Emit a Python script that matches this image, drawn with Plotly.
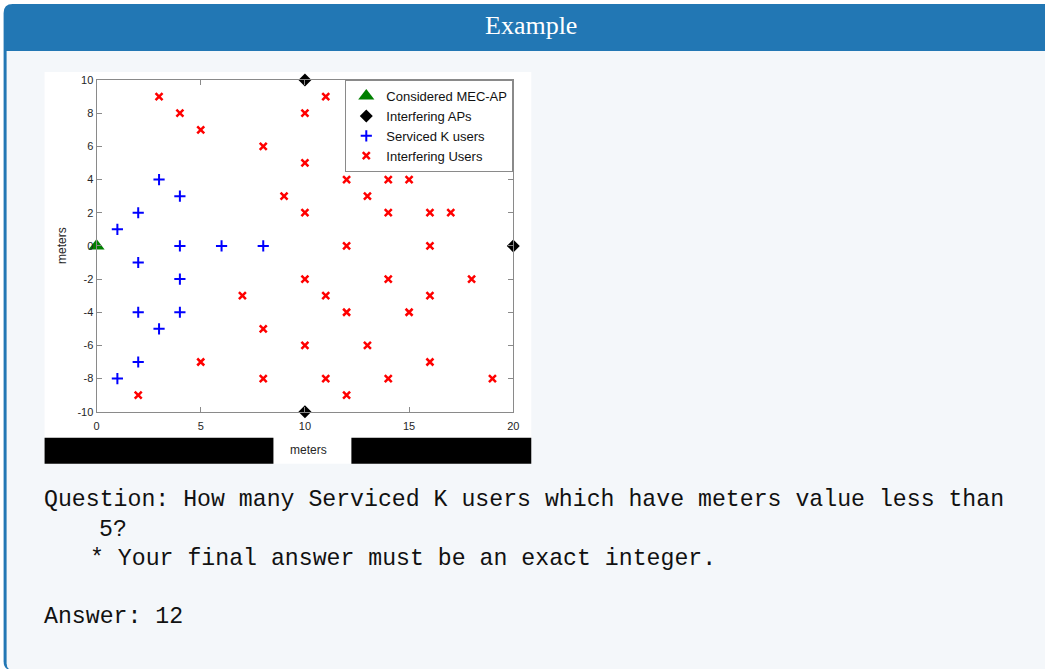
import plotly.graph_objects as go

W, H = 1045, 669

# --- data -----------------------------------------------------------------
mec_x = [0]
mec_y = [0]

ap_x = [10, 20, 10]
ap_y = [10, 0, -10]

serviced_x = [3, 4, 2, 1, 4, 6, 8, 2, 4, 2, 4, 3, 2, 1]
serviced_y = [4, 3, 2, 1, 0, 0, 0, -1, -2, -4, -4, -5, -7, -8]

interf_x = [3, 4, 5, 8, 11, 10, 10, 9, 10, 12, 13, 14, 15, 14, 16, 17,
            12, 16, 10, 14, 18, 11, 16, 7, 12, 15, 8, 10, 13, 5, 16,
            8, 11, 14, 19, 12, 2]
interf_y = [9, 8, 7, 6, 9, 8, 5, 3, 2, 4, 3, 4, 4, 2, 2, 2,
            0, 0, -2, -2, -2, -3, -3, -3, -4, -4, -5, -6, -6, -7, -7,
            -8, -8, -8, -8, -9, -9]

x_ticks = [0, 5, 10, 15, 20]
x_tick_labels = ["0", "5", "10", "15", "20"]
y_ticks = [-10, -8, -6, -4, -2, 0, 2, 4, 6, 8, 10]
y_tick_labels = ["-10", "-8", "-6", "-4", "-2", "0", "2", "4", "6", "8", "10"]

question_lines = [
    "Question: How many Serviced K users which have meters value less than",
    "5?",
    "* Your final answer must be an exact integer.",
    "Answer: 12",
]


# page pixel -> paper fraction (small calibration for the rendered canvas)
def fx(px):
    return ((px - 2.4) / 0.992) / W


def fy(py):
    return 1 - ((py - 6.1) / 0.980) / H


fig = go.Figure()

fig.add_trace(go.Scatter(
    x=mec_x, y=mec_y, mode="markers", name="Considered MEC-AP",
    marker=dict(symbol="triangle-up", size=14, color="#008000"),
    cliponaxis=False))
fig.add_trace(go.Scatter(
    x=ap_x, y=ap_y, mode="markers", name="Interfering APs",
    marker=dict(symbol="diamond", size=10, color="black"),
    cliponaxis=False))
fig.add_trace(go.Scatter(
    x=serviced_x, y=serviced_y, mode="markers", name="Serviced K users",
    marker=dict(symbol="cross-thin", size=8,
                line=dict(color="#0000ff", width=2)),
    cliponaxis=False))
fig.add_trace(go.Scatter(
    x=interf_x, y=interf_y, mode="markers", name="Interfering Users",
    marker=dict(symbol="x-thin", size=7,
                line=dict(color="#ff0000", width=2.5)),
    cliponaxis=False))

axis_common = dict(
    showgrid=False, zeroline=False, showline=True, linecolor="#8a8a8a",
    linewidth=1, mirror="ticks", ticks="inside", ticklen=5,
    tickcolor="#8a8a8a", tickfont=dict(family="Liberation Sans", size=11,
                                        color="#262626"),
)

fig.update_xaxes(range=[0, 20], tickvals=x_ticks, ticktext=x_tick_labels,
                 ticklabelstandoff=4,
                 domain=[fx(96), fx(513)], **axis_common)
fig.update_yaxes(range=[-10, 10], tickvals=y_ticks, ticktext=y_tick_labels,
                 domain=[fy(411), fy(80)], **axis_common)

shapes = []
# card outline and header
shapes.append(dict(
    type="path", xref="paper", yref="paper", layer="below",
    path=(f"M {fx(3)},{fy(13)} Q {fx(3)},{fy(4)} {fx(12)},{fy(4)} "
          f"L {fx(1070)},{fy(4)} L {fx(1070)},{fy(669)} L {fx(12)},{fy(669)} "
          f"Q {fx(3)},{fy(669)} {fx(3)},{fy(660)} Z"),
    fillcolor="#2277b4", line=dict(width=0)))
# card body
shapes.append(dict(
    type="path", xref="paper", yref="paper", layer="below",
    path=(f"M {fx(6)},{fy(51)} L {fx(1070)},{fy(51)} L {fx(1070)},{fy(669)} "
          f"L {fx(13)},{fy(669)} Q {fx(6)},{fy(669)} {fx(6)},{fy(662)} Z"),
    fillcolor="#f4f7fa", line=dict(width=0)))
# white chart panel
shapes.append(dict(
    type="rect", xref="paper", yref="paper", layer="below",
    x0=fx(44), x1=fx(531), y0=fy(463), y1=fy(72),
    fillcolor="white", line=dict(width=0)))
# black bars along the bottom of the panel
shapes.append(dict(
    type="rect", xref="paper", yref="paper", layer="above",
    x0=fx(44), x1=fx(273), y0=fy(463), y1=fy(437),
    fillcolor="black", line=dict(width=0)))
shapes.append(dict(
    type="rect", xref="paper", yref="paper", layer="above",
    x0=fx(351), x1=fx(531), y0=fy(463), y1=fy(437),
    fillcolor="black", line=dict(width=0)))

annotations = [
    dict(text="Example", x=fx(531), y=fy(26), xref="paper", yref="paper",
         showarrow=False, xanchor="center", yanchor="middle",
         font=dict(family="Liberation Serif", size=26, color="white")),
    dict(text="meters", x=fx(308), y=fy(449), xref="paper", yref="paper",
         showarrow=False, xanchor="center", yanchor="middle",
         font=dict(family="Liberation Sans", size=12, color="#262626")),
    dict(text="meters", x=fx(62), y=fy(245), xref="paper", yref="paper",
         showarrow=False, xanchor="center", yanchor="middle", textangle=-90,
         font=dict(family="Liberation Sans", size=12, color="#262626")),
]

line_pos = [(41, 499), (96, 529), (87, 558), (41, 616)]
for txt, (px, py) in zip(question_lines, line_pos):
    annotations.append(dict(
        text=txt, x=fx(px), y=fy(py), xref="paper", yref="paper",
        showarrow=False, xanchor="left", yanchor="middle",
        font=dict(family="Liberation Mono", size=23.2, color="#111111")))

fig.update_layout(
    width=W, height=H, margin=dict(l=0, r=0, t=0, b=0),
    paper_bgcolor="white", plot_bgcolor="white",
    shapes=shapes, annotations=annotations,
    showlegend=True,
    legend=dict(x=fx(513), y=fy(80), xanchor="right", yanchor="top",
                bgcolor="white", bordercolor="#8a8a8a", borderwidth=1,
                font=dict(family="Liberation Sans", size=13, color="#111111"),
                tracegroupgap=0, itemwidth=30),
)

fig.write_html("out.html")
